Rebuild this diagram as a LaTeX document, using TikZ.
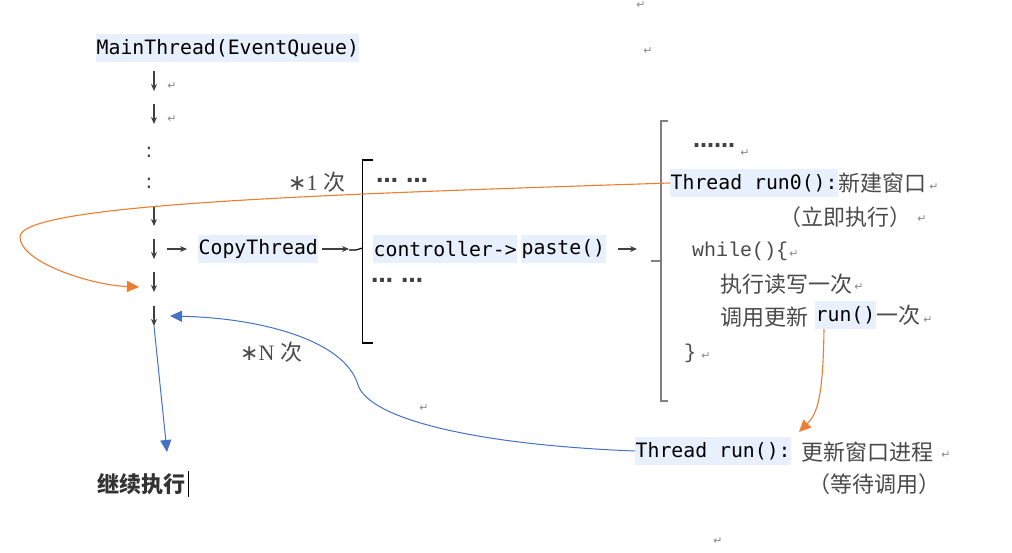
\documentclass[tikz,border=0pt]{standalone}
\usepackage{fontspec}
\setmainfont{Liberation Serif}
\setmonofont{DejaVu Sans Mono}
\newfontfamily\cjk{Noto Sans CJK SC}
\newfontfamily\sym{DejaVu Sans}
\newfontfamily\symb{DejaVu Sans Bold}
\newfontfamily\codefont{Liberation Mono}
\usetikzlibrary{arrows.meta}
\definecolor{hlblue}{HTML}{E7F0FC}
\definecolor{zhgray}{HTML}{4A4A4A}
\definecolor{pmgray}{HTML}{8A8A8A}
\definecolor{arrgray}{HTML}{404040}
\definecolor{orangeline}{HTML}{ED7D31}
\definecolor{blueline}{HTML}{4472C4}
\definecolor{brgray}{HTML}{808080}
\tikzset{
  hl/.style={fill=hlblue, inner xsep=0.5pt, inner ysep=0pt, minimum height=28pt,
    font=\ttfamily\fontsize{19.8}{20}\selectfont, text=black, anchor=west},
  zh/.style={font=\cjk\fontsize{22}{24}\selectfont, text=zhgray, inner sep=0pt, anchor=west},
  pm/.style={font=\sym\fontsize{11}{12}\selectfont, text=pmgray, inner sep=0pt},
  dotsty/.style={font=\symb\fontsize{22}{26}\selectfont, text=arrgray, inner sep=0pt, anchor=west},
  codesty/.style={font=\codefont\fontsize{20}{22}\selectfont, text=zhgray, inner sep=0pt, anchor=west},
  garrow/.style={draw=arrgray, line width=1.1pt, -{Stealth[length=7pt,width=6pt]}},
  oline/.style={draw=orangeline, line width=1.1pt, -{Triangle[length=12pt,width=11pt]}},
  bline/.style={draw=blueline, line width=1pt, -{Triangle[length=12pt,width=11pt]}},
}
\begin{document}
\begin{tikzpicture}[x=1pt,y=-1pt]
\useasboundingbox[fill=white] (0,0) rectangle (1012,553);

% main column
\node[hl] (main) at (96,48) {MainThread(EventQueue)};
\coordinate (a1s) at (154,71);  \coordinate (a1e) at (154,91);
\coordinate (a2s) at (154,104); \coordinate (a2e) at (154,124);
\coordinate (a3s) at (154,206); \coordinate (a3e) at (154,226);
\coordinate (a4s) at (154,239); \coordinate (a4e) at (154,259);
\coordinate (a5s) at (154,272); \coordinate (a5e) at (154,292);
\coordinate (a6s) at (154,306); \coordinate (a6e) at (154,326);
\draw[garrow] (a1s) -- (a1e);
\draw[garrow] (a2s) -- (a2e);
\draw[garrow] (a3s) -- (a3e);
\draw[garrow] (a4s) -- (a4e);
\draw[garrow] (a5s) -- (a5e);
\draw[garrow] (a6s) -- (a6e);
\node[pm] (p1) at (172,86) {↵};
\node[pm] (p2) at (172,119) {↵};
\node[font=\sym\fontsize{20}{24}\selectfont, text=arrgray, inner sep=0pt] (c1) at (149,152) {:};
\node[font=\sym\fontsize{20}{24}\selectfont, text=arrgray, inner sep=0pt] (c2) at (149,183) {:};

% CopyThread chain
\coordinate (h1s) at (167,249); \coordinate (h1e) at (187,249);
\draw[garrow] (h1s) -- (h1e);
\node[hl] (copy) at (198,249) {CopyThread~};
\coordinate (h2e) at (349,249);
\draw[garrow] ([xshift=3pt]copy.east) -- (h2e);

% bracket 1
\draw[line width=1.2pt, black] (373,160) -- (362.5,160) -- (362.5,343) -- (373,343);
\draw[line width=1.2pt, black] (349,250) -- (356,250) -- (362.5,248);

\node[dotsty] (d1) at (376,180) {…\hspace{8pt}…};
\node[hl] (ctrl) at (373,249) {controller->};
\node[hl] (paste) at (521,249) {paste()};
\node[dotsty] (d2) at (371,280) {…\hspace{8pt}…};
\coordinate (h3s) at (618,249); \coordinate (h3e) at (637,249);
\draw[garrow] (h3s) -- (h3e);

% bracket 2
\draw[line width=2pt, brgray] (668,121) -- (661,121) -- (661,401) -- (668,401);
\draw[line width=2pt, brgray] (651,261) -- (661,261);

% right block
\node[font=\symb\fontsize{21}{22}\selectfont, text=arrgray, inner sep=0pt, anchor=west] (d3) at (693,146) {……};
\node[pm] (p3) at (745,153) {↵};
\node[hl] (run0) at (670,183) {Thread run0():};
\node[zh] (xj) at (run0.east) {新建窗口};
\node[pm] (p4) at (934,187) {↵};
\node[zh] (lj) at (779,217) {（立即执行）};
\node[pm] (p5) at (922,219) {↵};
\node[codesty] (wh) at (692,251) {while()\{};
\node[pm] (p6) at (794,254) {↵};
\node[zh] (zx) at (720,284) {执行读写一次};
\node[pm] (p7) at (859,287) {↵};
\node[zh] (dy) at (720,317) {调用更新};
\node[hl] (run) at (815,315) {run()};
\node[zh] (yc) at (run.east) {一次};
\node[pm] (p8) at (928,320) {↵};
\node[codesty] (br) at (684,353) {\}};
\node[pm] (p9) at (706,356) {↵};

% bottom right
\node[hl] (runA) at (635,451) {Thread run():};
\node[zh] (gx) at (801,452) {更新窗口进程};
\node[pm] (p10) at (946,455) {↵};
\node[zh] (dd) at (808,484) {（等待调用）};

% bottom left
\node[font=\cjk\bfseries\fontsize{22}{24}\selectfont, text=black!80, inner sep=0pt, anchor=west] (jx) at (97,484) {继续执行};
\coordinate (cur1) at (188.5,471); \coordinate (cur2) at (188.5,497);
\draw[line width=0.8pt, black] (cur1) -- (cur2);

% labels
\node[inner sep=0pt, anchor=west, text=zhgray, font=\fontsize{22}{24}\selectfont] (once) at (288,182) {{\sym ∗}1 {\cjk 次}};
\node[inner sep=0pt, anchor=west, text=zhgray, font=\fontsize{22}{24}\selectfont] (ntimes) at (240,352) {{\sym ∗}N {\cjk 次}};

% stray paragraph marks
\node[pm] (p11) at (641,5) {↵};
\node[pm] (p12) at (648,51) {↵};
\node[pm] (p13) at (424,408) {↵};
\node[pm] (p14) at (718,541) {↵};

% connectors
\coordinate (tipA) at (139,287);
\draw[oline] (run0.west) .. controls (300,195) and (20,205) .. (20,237)
  .. controls (20,262) and (90,285) .. (tipA);
\coordinate (o2e) at (799,432);
\draw[oline] ([xshift=9pt]run.south west) .. controls (823,395) and (818,413) .. (o2e);
\coordinate (tipB) at (170,316);
\draw[bline] (runA.west) .. controls (480,445) and (370,420) .. (358,385)
  .. controls (345,340) and (260,318) .. (tipB);
\coordinate (tipC) at (167,452);
\draw[bline] (a6e) -- (tipC);
\end{tikzpicture}
\end{document}
